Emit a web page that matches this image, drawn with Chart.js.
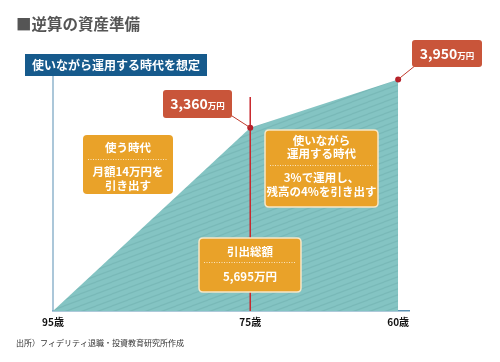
<!DOCTYPE html>
<html>
<head>
<meta charset="utf-8">
<script src="https://cdn.jsdelivr.net/npm/chart.js@4/dist/chart.umd.min.js"></script>
<style>
html,body{margin:0;padding:0;background:#fff;}
canvas{display:block;}
</style>
</head>
<body>
<canvas id="c" width="500" height="362"></canvas>
<script>
// ---- data ----
const ages = [95, 75, 60];                 // x positions (age)
const drawnHeights = [0, 3126, 3950];       // heights of the area as drawn (万円, illustrative)
const tickAges = [95, 75, 60];
const tickSuffix = '歳';
const peakValues = ['3,360', '3,950'];
const peakUnit = '万円';
const titleText = '■逆算の資産準備';
const bannerText = '使いながら運用する時代を想定';
const box1Lines = ['使う時代', '月額14万円を', '引き出す'];
const box2Lines = ['使いながら', '運用する時代', '3%で運用し、', '残高の4%を引き出す'];
const box3Lines = ['引出総額', '5,695万円'];
const sourceText = '出所）フィデリティ退職・投資教育研究所作成';

const JP = '"Noto Sans CJK JP", "Noto Sans", sans-serif';

function makePattern() {
  const p = document.createElement('canvas');
  p.width = 16; p.height = 6;
  const g = p.getContext('2d');
  g.fillStyle = '#84c4c3';
  g.fillRect(0, 0, 16, 6);
  g.strokeStyle = '#79b9b8';
  g.lineWidth = 1.2;
  for (const [dx, dy] of [[0,0],[0,6],[0,-6],[16,0],[-16,0]]) {
    g.beginPath();
    g.moveTo(0 + dx, 6 + dy);
    g.lineTo(16 + dx, 0 + dy);
    g.stroke();
  }
  return g.createPattern(p, 'repeat');
}

function rrect(ctx, x, y, w, h, r) {
  ctx.beginPath();
  ctx.moveTo(x + r, y);
  ctx.lineTo(x + w - r, y);
  ctx.quadraticCurveTo(x + w, y, x + w, y + r);
  ctx.lineTo(x + w, y + h - r);
  ctx.quadraticCurveTo(x + w, y + h, x + w - r, y + h);
  ctx.lineTo(x + r, y + h);
  ctx.quadraticCurveTo(x, y + h, x, y + h - r);
  ctx.lineTo(x, y + r);
  ctx.quadraticCurveTo(x, y, x + r, y);
  ctx.closePath();
}

function orangeBox(ctx, b, lines, ys, divY, border) {
  rrect(ctx, b.x, b.y, b.w, b.h, 4);
  ctx.fillStyle = '#e9a229';
  ctx.fill();
  if (border) {
    ctx.strokeStyle = '#f6e6c6';
    ctx.lineWidth = 1.5;
    ctx.stroke();
  }
  ctx.save();
  ctx.strokeStyle = '#f8e4bf';
  ctx.lineWidth = 1;
  ctx.setLineDash([1, 1.5]);
  ctx.beginPath();
  ctx.moveTo(b.x + 5, divY + 0.5);
  ctx.lineTo(b.x + b.w - 5, divY + 0.5);
  ctx.stroke();
  ctx.restore();
  ctx.fillStyle = '#ffffff';
  ctx.font = 'bold 11.5px ' + JP;
  ctx.textAlign = 'center';
  ctx.textBaseline = 'middle';
  lines.forEach((t, i) => ctx.fillText(t, b.x + b.w / 2, ys[i]));
}

function redLabel(ctx, b, value, cy) {
  rrect(ctx, b.x, b.y, b.w, b.h, 3);
  ctx.fillStyle = '#c9553a';
  ctx.fill();
  ctx.fillStyle = '#ffffff';
  ctx.textBaseline = 'alphabetic';
  ctx.textAlign = 'left';
  ctx.font = 'bold 14px ' + JP;
  const w1 = ctx.measureText(value).width;
  ctx.font = 'bold 8.5px ' + JP;
  const w2 = ctx.measureText(peakUnit).width;
  const start = b.x + (b.w - w1 - w2) / 2;
  ctx.font = 'bold 14px ' + JP;
  ctx.fillText(value, start, cy + 5);
  ctx.font = 'bold 8.5px ' + JP;
  ctx.fillText(peakUnit, start + w1, cy + 5);
}

const decor = {
  id: 'decor',
  beforeDatasetsDraw(chart) {
    const ctx = chart.ctx;
    const xs = chart.scales.x;
    const bottom = chart.chartArea.bottom;
    ctx.save();
    ctx.strokeStyle = '#8fb5cc';
    ctx.lineWidth = 1.5;
    ctx.beginPath();
    ctx.moveTo(chart.chartArea.left, 76);
    ctx.lineTo(chart.chartArea.left, bottom);
    ctx.stroke();
    const x75 = xs.getPixelForValue(ages[1]);
    ctx.strokeStyle = '#c8262c';
    ctx.lineWidth = 1.5;
    ctx.beginPath();
    ctx.moveTo(x75, 97);
    ctx.lineTo(x75, bottom);
    ctx.stroke();
    ctx.restore();
  },
  afterDatasetsDraw(chart) {
    const ctx = chart.ctx;
    const xs = chart.scales.x, ys = chart.scales.y;
    ctx.save();
    ctx.fillStyle = '#555555';
    ctx.font = 'bold 15.5px ' + JP;
    ctx.textAlign = 'left';
    ctx.textBaseline = 'middle';
    ctx.fillText(titleText, 16, 24);
    ctx.fillStyle = '#165a8c';
    ctx.fillRect(25, 54, 182, 22);
    ctx.fillStyle = '#ffffff';
    ctx.font = 'bold 12px ' + JP;
    ctx.fillText(bannerText, 32, 65.5);
    const p1 = {x: xs.getPixelForValue(ages[1]), y: ys.getPixelForValue(drawnHeights[1])};
    const p2 = {x: xs.getPixelForValue(ages[2]), y: ys.getPixelForValue(drawnHeights[2])};
    ctx.strokeStyle = '#c0392b';
    ctx.lineWidth = 1;
    ctx.beginPath();
    ctx.moveTo(229, 114); ctx.lineTo(p1.x, p1.y);
    ctx.moveTo(416, 65); ctx.lineTo(p2.x, p2.y);
    ctx.stroke();
    redLabel(ctx, {x: 163, y: 90, w: 69, h: 28}, peakValues[0], 104);
    redLabel(ctx, {x: 412, y: 40, w: 70, h: 27}, peakValues[1], 53.5);
    orangeBox(ctx, {x: 83, y: 135, w: 90, h: 59}, box1Lines, [148, 172, 186], 159, false);
    orangeBox(ctx, {x: 265, y: 130, w: 113, h: 77}, box2Lines, [141, 154, 178, 192], 165, true);
    orangeBox(ctx, {x: 199, y: 238, w: 102, h: 54}, box3Lines, [252, 277], 262, true);
    ctx.fillStyle = '#333333';
    ctx.font = '8px ' + JP;
    ctx.textAlign = 'left';
    ctx.textBaseline = 'middle';
    ctx.fillText(sourceText, 16, 343);
    ctx.restore();
  }
};

const ctx = document.getElementById('c').getContext('2d');
new Chart(ctx, {
  type: 'line',
  data: {
    datasets: [{
      data: ages.map((a, i) => ({x: a, y: drawnHeights[i]})),
      fill: 'origin',
      backgroundColor: makePattern(),
      borderColor: 'rgba(0,0,0,0)',
      borderWidth: 0,
      tension: 0,
      pointRadius: [0, 3, 3],
      pointHoverRadius: 0,
      pointBackgroundColor: '#b5202a',
      pointBorderWidth: 0,
      clip: false
    }]
  },
  options: {
    responsive: false,
    animation: false,
    events: [],
    layout: {padding: {left: 53, right: 91, top: 53, bottom: 29}},
    plugins: {
      legend: {display: false},
      tooltip: {enabled: false},
      title: {display: false},
      filler: {drawTime: 'beforeDatasetsDraw'}
    },
    scales: {
      x: {
        type: 'linear',
        reverse: true,
        min: 58.9,
        max: 95,
        afterBuildTicks: (s) => { s.ticks = tickAges.map(v => ({value: v})); },
        grid: {display: false, drawTicks: false},
        border: {display: true, color: '#5d93b5', width: 1.5},
        ticks: {
          autoSkip: false,
          maxRotation: 0,
          padding: 5,
          color: '#111111',
          font: {family: JP, size: 10, weight: 'bold'},
          callback: (v) => v + tickSuffix
        }
      },
      y: {
        display: false,
        min: 0,
        max: 4400
      }
    }
  },
  plugins: [decor]
});
</script>
</body>
</html>
